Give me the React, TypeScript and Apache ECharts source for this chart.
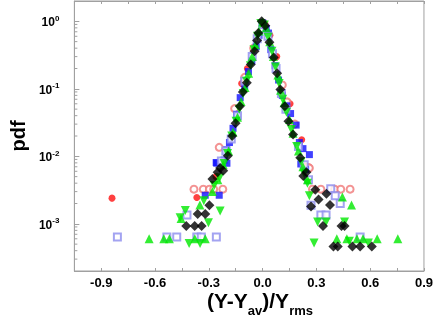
import React, { useEffect, useRef } from "react";
import * as echarts from "echarts";

const xMin = -1.05;
const xMax = 0.9;
const yMin = 0.0002;
const yMax = 2;

const redFilled: number[][] = [
  [-0.84, 0.0024], [-0.367, 0.00245], [-0.26, 0.005], [-0.117, 0.12], [-0.085, 0.2],
  [0.01, 0.95], [0.041, 0.62], [0.079, 0.3], [0.153, 0.06], [0.218, 0.0176], [0.237, 0.0072],
];

const redOpen: number[][] = [
  [-0.383, 0.00326], [-0.331, 0.00326], [-0.297, 0.00326], [-0.273, 0.00326], [-0.222, 0.00326],
  [0.278, 0.00326], [0.325, 0.00326], [0.402, 0.00326], [0.436, 0.00326], [0.488, 0.00326],
  [0.256, 0.0068], [-0.242, 0.0136], [-0.156, 0.051], [-0.1, 0.148], [-0.05, 0.4],
  [0.01, 0.89], [0.11, 0.114], [0.136, 0.064], [0.261, 0.0067], [0.18, 0.03],
];

const blueFilled: number[][] = [
  [0.0, 0.95], [-0.02, 0.62], [-0.036, 0.42], [-0.06, 0.26], [-0.079, 0.18], [-0.1, 0.11],
  [-0.125, 0.074], [-0.145, 0.042], [-0.165, 0.026], [-0.185, 0.016], [-0.2, 0.0125],
  [-0.215, 0.0088], [-0.259, 0.0081], [-0.199, 0.0079], [-0.256, 0.0079], [-0.32, 0.00265],
  [-0.242, 0.00265],
  [0.02, 0.78], [0.033, 0.67], [0.046, 0.38], [0.07, 0.22], [0.089, 0.135], [0.11, 0.08],
  [0.135, 0.056], [0.156, 0.043], [0.187, 0.029], [0.205, 0.016], [0.225, 0.013],
  [0.261, 0.0106], [0.24, 0.0064], [0.213, 0.0077],
];

const blueOpen: number[][] = [
  [-0.81, 0.00064], [-0.534, 0.00064], [-0.479, 0.00064], [-0.367, 0.00064], [-0.342, 0.00064],
  [-0.258, 0.00064], [-0.422, 0.00135], [-0.23, 0.0085], [-0.205, 0.012], [-0.175, 0.018],
  [-0.14, 0.04], [-0.1, 0.13], [-0.058, 0.3], [-0.03, 0.55], [0.0, 0.9], [0.03, 0.6],
  [0.055, 0.33], [0.075, 0.2], [0.105, 0.085], [0.13, 0.05], [0.2, 0.014], [0.232, 0.0075],
  [0.256, 0.0045], [0.27, 0.00188], [0.38, 0.0033], [0.405, 0.0026], [0.433, 0.002],
  [0.325, 0.00135], [0.354, 0.00135], [0.544, 0.00064],
];

const greenUp: number[][] = [
  [-0.633, 0.0006], [-0.551, 0.0006], [-0.52, 0.0006], [-0.378, 0.0006], [-0.32, 0.0006],
  [-0.35, 0.0019], [-0.455, 0.0012], [-0.28, 0.003], [-0.22, 0.0075],
  [0.0, 0.98], [-0.02, 0.72], [-0.04, 0.45], [-0.058, 0.3], [-0.078, 0.17], [-0.098, 0.105],
  [-0.12, 0.065], [-0.14, 0.038], [-0.165, 0.023], [-0.19, 0.012], [-0.25, 0.0045],
  [0.02, 0.8], [0.04, 0.5], [0.06, 0.3], [0.085, 0.16], [0.1, 0.095], [0.12, 0.062],
  [0.15, 0.035], [0.17, 0.022], [0.2, 0.012], [0.225, 0.007], [0.25, 0.0045],
  [0.445, 0.0025], [0.496, 0.0019], [0.414, 0.0006], [0.47, 0.0006], [0.526, 0.0006],
  [0.56, 0.0006], [0.639, 0.0006], [0.754, 0.0006],
];

const greenDown: number[][] = [
  [-0.41, 0.00051], [-0.349, 0.00051], [-0.431, 0.00158], [-0.46, 0.00123], [-0.302, 0.00104],
  [-0.237, 0.00155], [-0.328, 0.0022],
  [-0.01, 0.93], [-0.028, 0.6], [-0.048, 0.38], [-0.068, 0.22], [-0.09, 0.13], [-0.108, 0.085],
  [-0.13, 0.05], [-0.148, 0.033], [-0.172, 0.02], [-0.196, 0.011], [-0.215, 0.0078],
  [-0.24, 0.0048], [-0.27, 0.0037],
  [0.01, 0.88], [0.03, 0.58], [0.052, 0.36], [0.072, 0.21], [0.092, 0.12], [0.112, 0.07],
  [0.133, 0.045], [0.16, 0.025], [0.19, 0.014], [0.215, 0.0083], [0.232, 0.0055],
  [0.25, 0.004], [0.261, 0.0026],
  [0.307, 0.00106], [0.354, 0.00106], [0.457, 0.00106], [0.287, 0.00052], [0.484, 0.00055],
  [0.59, 0.00052],
];

const blackDiamond: number[][] = [
  [-0.005, 1.0], [-0.024, 0.67], [-0.031, 0.52], [-0.045, 0.36], [-0.066, 0.23], [-0.088, 0.123],
  [-0.11, 0.09], [-0.127, 0.055], [-0.151, 0.031], [-0.17, 0.02], [-0.194, 0.0102],
  [-0.22, 0.0061], [-0.237, 0.0067], [-0.251, 0.0058], [-0.28, 0.0046], [-0.297, 0.00188],
  [-0.32, 0.0014], [-0.362, 0.0014], [-0.34, 0.00093], [-0.379, 0.00093], [-0.426, 0.00093],
  [0.015, 0.86], [0.038, 0.49], [0.062, 0.29], [0.081, 0.17], [0.099, 0.098], [0.124, 0.055],
  [0.144, 0.033], [0.17, 0.021], [0.21, 0.0095], [0.227, 0.0051], [0.244, 0.0058],
  [0.27, 0.0018], [0.294, 0.0032], [0.312, 0.0023], [0.356, 0.0028], [0.376, 0.0019],
  [0.337, 0.00093], [0.44, 0.00093], [0.457, 0.00093], [0.395, 0.00046], [0.419, 0.00046],
  [0.501, 0.00046], [0.544, 0.00046], [0.609, 0.00046],
];

const minorTickValues: number[] = [
  0.0003, 0.0004, 0.0005, 0.0006, 0.0007, 0.0008, 0.0009,
  0.002, 0.003, 0.004, 0.005, 0.006, 0.007, 0.008, 0.009,
  0.02, 0.03, 0.04, 0.05, 0.06, 0.07, 0.08, 0.09,
  0.2, 0.3, 0.4, 0.5, 0.6, 0.7, 0.8, 0.9,
];

const FONT = "'Liberation Sans', Arial, sans-serif";
const AXIS_GRAY = "#a0a0a0";

export default function App() {
  const ref = useRef<HTMLDivElement>(null);
  useEffect(() => {
    if (!ref.current) return;
    const chart = echarts.init(ref.current, null, { renderer: "svg" });
    const xFmt = (v: number) => {
      const k = Math.round(v / 0.3);
      if (Math.abs(k * 0.3 - v) > 1e-6) return "";
      return (k * 0.3).toFixed(1).replace("-0.0", "0.0");
    };
    const yFmt = (v: number) => {
      const e = Math.round(Math.log10(v));
      if (Math.abs(Math.log10(v) - e) > 1e-6) return "";
      return "{b|10}{s|" + e + "}";
    };
    const scatter = (name: string, data: number[][], symbol: string, size: number, style: any, z: number) => ({
      name,
      type: "scatter",
      data,
      symbol,
      symbolSize: size,
      itemStyle: style,
      z,
    });
    chart.setOption({
      animation: false,
      textStyle: { fontFamily: FONT },
      grid: { left: 49, right: 9, top: 1, bottom: 46, show: true, borderColor: AXIS_GRAY, borderWidth: 1 },
      xAxis: [
        {
          type: "value",
          min: xMin,
          max: xMax,
          interval: 0.15,
          axisLine: { onZero: false, lineStyle: { color: AXIS_GRAY } },
          axisTick: { inside: true, length: 3, lineStyle: { color: AXIS_GRAY } },
          splitLine: { show: false },
          axisLabel: {
            formatter: xFmt,
            color: "#000",
            fontWeight: "bold",
            fontSize: 13,
            fontFamily: FONT,
            margin: 5,
          },
        },
        {
          type: "value",
          position: "top",
          min: xMin,
          max: xMax,
          interval: 0.15,
          axisLine: { onZero: false, lineStyle: { color: AXIS_GRAY } },
          axisTick: { inside: true, length: 3, lineStyle: { color: AXIS_GRAY } },
          splitLine: { show: false },
          axisLabel: { show: false },
        },
      ],
      yAxis: {
        type: "log",
        logBase: 10,
        min: yMin,
        max: yMax,
        name: "pdf",
        nameLocation: "middle",
        nameRotate: 90,
        nameGap: 31,
        nameTextStyle: { color: "#000", fontWeight: "bold", fontSize: 20, fontFamily: FONT },
        axisLine: { show: true, onZero: false, lineStyle: { color: AXIS_GRAY } },
        axisTick: { inside: true, length: 5, lineStyle: { color: AXIS_GRAY } },
        splitLine: { show: false },
        axisLabel: {
          formatter: yFmt,
          margin: 15,
          color: "#000",
          rich: {
            b: { fontSize: 12, fontWeight: "bold", fontFamily: FONT, color: "#000", lineHeight: 14, verticalAlign: "bottom" },
            s: { fontSize: 8, fontWeight: "bold", fontFamily: FONT, color: "#000", lineHeight: 8, verticalAlign: "top", padding: [0, 0, 6, 0] },
          },
        },
      },
      graphic: [
        {
          type: "text",
          left: 207,
          top: 290,
          style: {
            text: "{a|(Y-Y}{s|av}{a|)/Y}{s|rms}",
            rich: {
              a: { fontSize: 21, fontWeight: "bold", fontFamily: FONT, fill: "#000", lineHeight: 27, verticalAlign: "top" },
              s: { fontSize: 13, fontWeight: "bold", fontFamily: FONT, fill: "#000", verticalAlign: "bottom" },
            },
          },
        },
      ],
      series: [
        {
          type: "custom",
          silent: true,
          clip: false,
          data: minorTickValues.map((v) => [xMin, v]),
          renderItem: (params: any, api: any) => {
            const p = api.coord([xMin, api.value(1)]);
            return {
              type: "line",
              shape: { x1: p[0], y1: p[1], x2: p[0] + 3, y2: p[1] },
              style: { stroke: AXIS_GRAY, lineWidth: 1 },
            };
          },
          z: 1,
        },
        scatter("redFilled", redFilled, "circle", 7, { color: "#ff1010" }, 2),
        scatter("redOpen", redOpen, "emptyCircle", 7, { color: "#f07878", borderWidth: 1 }, 3),
        scatter("blueFilled", blueFilled, "rect", 7, { color: "#1010ff" }, 4),
        scatter("blueOpen", blueOpen, "emptyRect", 7, { color: "#8c8cee", borderWidth: 1 }, 5),
        scatter("greenUp", greenUp, "triangle", 9, { color: "#00e800" }, 6),
        scatter("greenDown", greenDown, "path://M0,0 L10,0 L5,9 Z", 9, { color: "#00e800" }, 7),
        scatter("blackDiamond", blackDiamond, "diamond", 10, { color: "#000" }, 8),
      ],
    });
    return () => chart.dispose();
  }, []);
  return <div ref={ref} style={{ position: "fixed", left: 0, top: 0, width: 436, height: 317 }} />;
}
